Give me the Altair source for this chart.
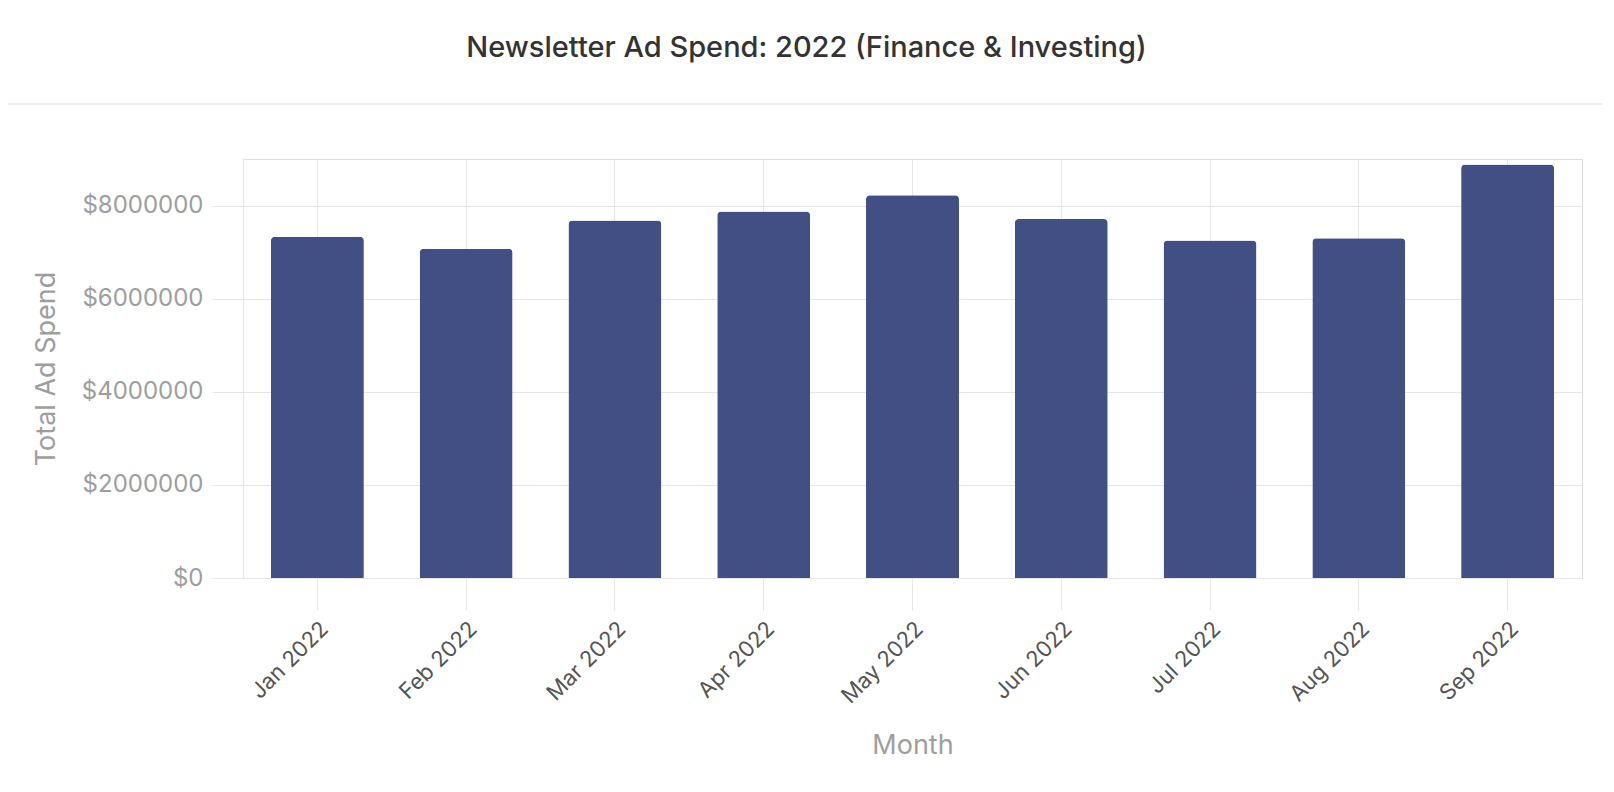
import altair as alt
import pandas as pd

months = ["Jan 2022", "Feb 2022", "Mar 2022", "Apr 2022", "May 2022",
          "Jun 2022", "Jul 2022", "Aug 2022", "Sep 2022"]
spend = [7330000, 7070000, 7680000, 7870000, 8220000,
         7710000, 7250000, 7300000, 8880000]
y_ticks = [0, 2000000, 4000000, 6000000, 8000000]

df = pd.DataFrame({"Month": months, "Spend": spend})

W, H = 1339, 419
FONT = "Inter"
GRID = "#e6e6e6"

bars = alt.Chart(df).mark_bar(
    color="#424f85", cornerRadiusTopLeft=4, cornerRadiusTopRight=4
).encode(
    x=alt.X("Month:N", sort=months,
            scale=alt.Scale(paddingInner=0.375, paddingOuter=0.1875),
            axis=alt.Axis(title="Month", labelAngle=-45, labelColor="#555555",
                          labelFontSize=22, labelFont=FONT, labelPadding=8,
                          titleFont=FONT, titleFontSize=27, titleColor="#9e9e9e",
                          titleFontWeight="normal", titlePadding=26,
                          grid=True, gridColor=GRID, tickColor=GRID, tickSize=32,
                          domain=False)),
    y=alt.Y("Spend:Q", scale=alt.Scale(domain=[0, 9000000], nice=False),
            axis=alt.Axis(title="Total Ad Spend", values=y_ticks,
                          labelExpr="'$' + datum.value",
                          labelColor="#9e9e9e", labelFontSize=24, labelFont=FONT,
                          labelPadding=9,
                          titleFont=FONT, titleFontSize=27, titleColor="#9e9e9e",
                          titleFontWeight="normal", titlePadding=21,
                          grid=True, gridColor=GRID, tickColor=GRID, tickSize=31,
                          domain=True, domainColor=GRID)),
)

sep = alt.Chart(pd.DataFrame({"k": [0]})).mark_rule(
    color="#eeeeee", strokeWidth=2
).encode(x=alt.value(-235), x2=alt.value(W + 24), y=alt.value(-55))

chart = alt.layer(bars, sep).properties(
    width=W, height=H,
    title=alt.Title("Newsletter Ad Spend: 2022 (Finance & Investing)",
                    font=FONT, fontSize=29, fontWeight=500, color="#333333",
                    anchor="middle", dx=-106, offset=40),
    autosize=alt.AutoSizeParams(type="none"),
    padding={"left": 235, "top": 151, "right": 20, "bottom": 200},
).configure_view(stroke=None).configure(background="white")

chart.save("out.html", embed_options={"renderer": "svg", "actions": False})
